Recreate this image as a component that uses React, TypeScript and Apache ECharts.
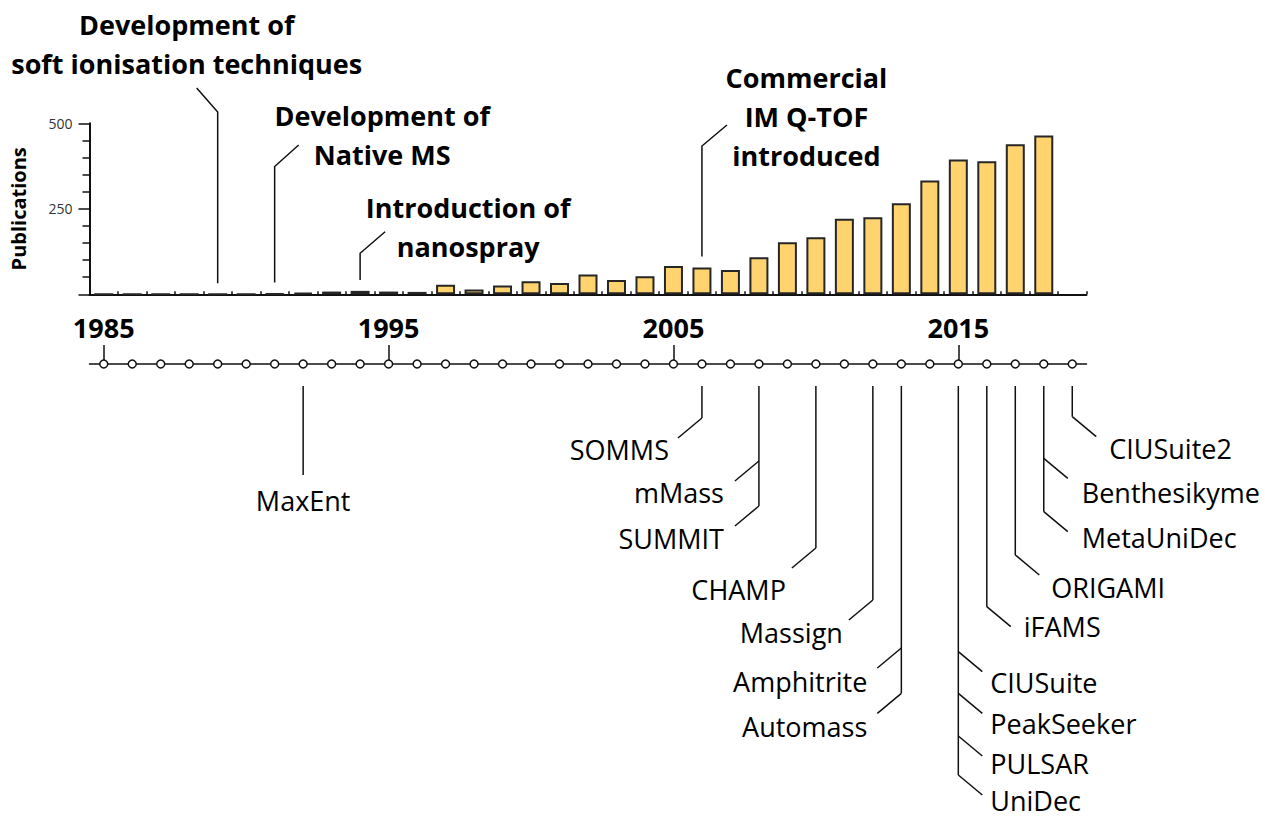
import React, { useEffect, useRef } from "react";
import * as echarts from "echarts";

// ---------- data ----------
const years = [
  "1985", "1986", "1987", "1988", "1989", "1990", "1991", "1992", "1993", "1994",
  "1995", "1996", "1997", "1998", "1999", "2000", "2001", "2002", "2003", "2004",
  "2005", "2006", "2007", "2008", "2009", "2010", "2011", "2012", "2013", "2014",
  "2015", "2016", "2017", "2018", "2019",
];
const publications = [
  0, 0, 0, 0, 0, 0, 2, 4, 8, 10,
  8, 7, 28, 14, 26, 38, 33, 58, 42, 53,
  83, 78, 71, 108, 152, 167, 221, 225, 266, 333,
  394, 389, 439, 464, null,
];
const labeledYears = ["1985", "1995", "2005", "2015"];
const yMin = 0;
const yMax = 500;
const yInterval = 250;

const milestoneTexts = [
  "Development of\nsoft ionisation techniques",
  "Development of\nNative MS",
  "Introduction of\nnanospray",
  "Commercial\nIM Q-TOF\nintroduced",
];
const milestoneYears = ["1989", "1991", "1994", "2006"];

const toolNames = [
  "MaxEnt", "SOMMS", "mMass", "SUMMIT", "CHAMP", "Massign", "Amphitrite", "Automass",
  "CIUSuite", "PeakSeeker", "PULSAR", "UniDec", "iFAMS", "ORIGAMI", "Benthesikyme",
  "MetaUniDec", "CIUSuite2",
];
const toolYears = [
  "1992", "2006", "2008", "2008", "2010", "2012", "2013", "2013",
  "2015", "2015", "2015", "2015", "2016", "2017", "2018",
  "2018", "2019",
];

// ---------- layout (pixels) ----------
const milestoneLayout = [
  { textDx: -31, textY: 43.5, elbowY: 112, dx: -21, dy: 24 },
  { textDx: 107.5, textY: 135, elbowY: 166.5, dx: 24, dy: 21.5 },
  { textDx: 108, textY: 226.5, elbowY: 253.3, dx: 25, dy: 21.6 },
  { textDx: 104.5, textY: 116.5, elbowY: 146, dx: 25, dy: 21 },
];
const toolLayout = [
  { branchY: 475, dir: 0, textY: 500, gap: 0 },
  { branchY: 418, dir: -1, textY: 449.5, gap: 9 },
  { branchY: 461, dir: -1, textY: 492.7, gap: 11 },
  { branchY: 506, dir: -1, textY: 538, gap: 11 },
  { branchY: 548, dir: -1, textY: 589.5, gap: 6 },
  { branchY: 600, dir: -1, textY: 632.3, gap: 6 },
  { branchY: 648, dir: -1, textY: 681.7, gap: 10 },
  { branchY: 693.3, dir: -1, textY: 726, gap: 10 },
  { branchY: 651.7, dir: 1, textY: 682.8, gap: 8 },
  { branchY: 693.3, dir: 1, textY: 723, gap: 8 },
  { branchY: 736, dir: 1, textY: 763, gap: 8 },
  { branchY: 775, dir: 1, textY: 800, gap: 8 },
  { branchY: 606.7, dir: 1, textY: 626, gap: 13 },
  { branchY: 555, dir: 1, textY: 587.5, gap: 12 },
  { branchY: 458.3, dir: 1, textY: 492, gap: 14 },
  { branchY: 511.7, dir: 1, textY: 537.5, gap: 14 },
  { branchY: 416.7, dir: 1, textY: 448.7, gap: 13 },
];

const FONT = '"Open Sans", "Noto Sans", sans-serif';
const INK = "#111";

export default function App() {
  const ref = useRef<HTMLDivElement>(null);

  useEffect(() => {
    if (!ref.current) return;
    const chart = echarts.init(ref.current, null, { renderer: "svg" });
    const isLabeled = (i: number) => labeledYears.includes(years[i]);

    chart.setOption({
      animation: false,
      backgroundColor: "#fff",
      grid: [
        { left: 89.5, right: 178.5, top: 123.3, height: 171 },
        { left: 89.5, right: 178.5, top: 364, height: 40 },
      ],
      xAxis: [
        {
          type: "category",
          gridIndex: 0,
          data: years,
          boundaryGap: true,
          axisLine: { lineStyle: { color: INK, width: 2 } },
          axisTick: { show: true, inside: true, length: 3, interval: 0, lineStyle: { color: INK, width: 1.5 } },
          axisLabel: { show: false },
          splitLine: { show: false },
        },
        {
          type: "category",
          gridIndex: 1,
          data: years,
          position: "top",
          boundaryGap: true,
          axisLine: { onZero: false, lineStyle: { color: INK, width: 1.5 } },
          axisTick: {
            show: true,
            alignWithLabel: true,
            length: 19,
            interval: (i: number) => isLabeled(i),
            lineStyle: { color: INK, width: 1.5 },
          },
          axisLabel: {
            show: true,
            interval: (i: number) => isLabeled(i),
            margin: 23,
            fontSize: 27,
            fontWeight: "bold",
            color: "#000",
            fontFamily: FONT,
          },
          splitLine: { show: false },
        },
      ],
      yAxis: [
        {
          type: "value",
          gridIndex: 0,
          min: yMin,
          max: yMax,
          interval: yInterval,
          name: "Publications",
          nameLocation: "middle",
          nameRotate: 90,
          nameGap: 61,
          nameTextStyle: { fontSize: 20, fontWeight: "bold", color: "#000", fontFamily: FONT },
          axisLine: { show: true, lineStyle: { color: INK, width: 2 } },
          axisTick: { show: true, length: 11, lineStyle: { color: INK, width: 1.5 } },
          minorTick: { show: true, splitNumber: 5, length: 7, lineStyle: { color: INK, width: 1.5 } },
          axisLabel: {
            margin: 17,
            fontSize: 14,
            color: "#333",
            fontFamily: FONT,
            formatter: (v: number) => (v === 0 ? "" : String(v)),
          },
          splitLine: { show: false },
          minorSplitLine: { show: false },
        },
        { type: "value", gridIndex: 1, min: 0, max: 1, show: false },
      ],
      series: [
        {
          type: "bar",
          xAxisIndex: 0,
          yAxisIndex: 0,
          data: publications,
          barWidth: 19,
          itemStyle: { color: "#FFD46F", borderColor: "#262626", borderWidth: 2 },
        },
        {
          type: "scatter",
          xAxisIndex: 1,
          yAxisIndex: 1,
          clip: false,
          data: years.map((y) => [y, 1]),
          symbol: "circle",
          symbolSize: 8,
          itemStyle: { color: "#fff", borderColor: INK, borderWidth: 1.5, opacity: 1 },
          z: 5,
        },
      ],
    });

    const graphics: any[] = [];
    const lineStyle = { stroke: INK, lineWidth: 1.5, fill: "none" };

    // milestone annotations above the bars
    milestoneYears.forEach((yr, i) => {
      const idx = years.indexOf(yr);
      const val = publications[idx] ?? 0;
      const p = chart.convertToPixel({ seriesIndex: 0 }, [yr, val]) as number[];
      const x = p[0];
      const endY = p[1] - 11;
      const L = milestoneLayout[i];
      graphics.push({
        type: "polyline",
        shape: { points: [[x, endY], [x, L.elbowY], [x + L.dx, L.elbowY - L.dy]] },
        style: lineStyle,
        silent: true,
      });
      graphics.push({
        type: "text",
        x: x + L.textDx,
        y: L.textY,
        style: {
          text: milestoneTexts[i],
          fontFamily: FONT,
          fontSize: 27,
          fontWeight: "bold",
          fill: "#000",
          align: "center",
          verticalAlign: "middle",
          lineHeight: 39,
        },
        silent: true,
      });
    });

    // software callouts below the timeline
    const stemEnd: Record<string, number> = {};
    toolYears.forEach((yr, i) => {
      stemEnd[yr] = Math.max(stemEnd[yr] ?? 0, toolLayout[i].branchY);
    });
    Object.keys(stemEnd).forEach((yr) => {
      const p = chart.convertToPixel({ seriesIndex: 1 }, [yr, 1]) as number[];
      graphics.push({
        type: "line",
        shape: { x1: p[0], y1: p[1] + 22, x2: p[0], y2: stemEnd[yr] },
        style: lineStyle,
        silent: true,
      });
    });
    toolYears.forEach((yr, i) => {
      const p = chart.convertToPixel({ seriesIndex: 1 }, [yr, 1]) as number[];
      const x = p[0];
      const L = toolLayout[i];
      if (L.dir === 0) {
        graphics.push({
          type: "text",
          x,
          y: L.textY,
          style: {
            text: toolNames[i],
            fontFamily: FONT,
            fontSize: 27,
            fill: "#000",
            align: "center",
            verticalAlign: "middle",
          },
          silent: true,
        });
        return;
      }
      const ex = x + L.dir * 24;
      const ey = L.branchY + 20;
      graphics.push({
        type: "line",
        shape: { x1: x, y1: L.branchY, x2: ex, y2: ey },
        style: lineStyle,
        silent: true,
      });
      graphics.push({
        type: "text",
        x: ex + L.dir * L.gap,
        y: L.textY,
        style: {
          text: toolNames[i],
          fontFamily: FONT,
          fontSize: 27,
          fill: "#000",
          align: L.dir < 0 ? "right" : "left",
          verticalAlign: "middle",
        },
        silent: true,
      });
    });

    chart.setOption({ graphic: graphics });

    return () => chart.dispose();
  }, []);

  return (
    <div
      ref={ref}
      style={{ position: "fixed", left: 0, top: 0, width: 1265, height: 819, background: "#fff" }}
    />
  );
}
